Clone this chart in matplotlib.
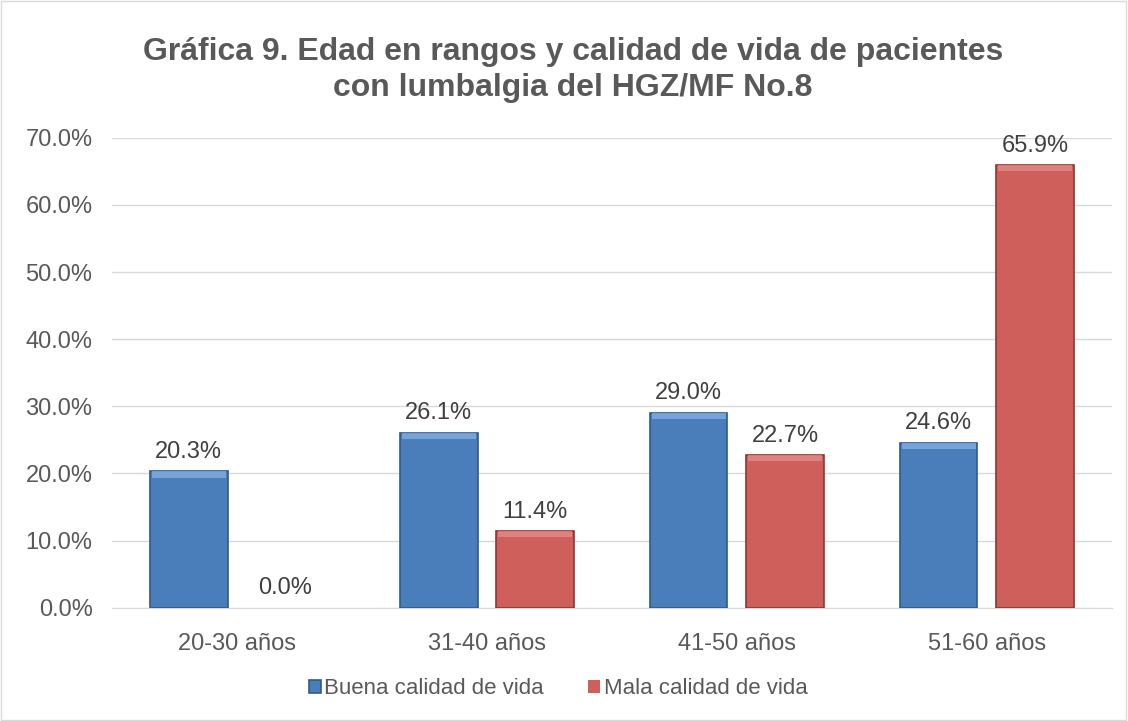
import matplotlib.pyplot as plt
import numpy as np

categories = ['20-30 años', '31-40 años', '41-50 años', '51-60 años']
buena = [20.3, 26.1, 29.0, 24.6]
mala = [0.0, 11.4, 22.7, 65.9]
series_names = ['Buena calidad de vida', 'Mala calidad de vida']

plt.rcParams['font.family'] = ['Liberation Sans', 'DejaVu Sans']

fig = plt.figure(figsize=(11.28, 7.21), dpi=100)
ax = fig.add_axes([0.0993, 0.157, 0.8865, 0.652])

x = np.arange(len(categories))
w = 0.31
off = 0.193

b1 = ax.bar(x - off, buena, w, color='#4A7EBB', edgecolor='#2E5A8C', linewidth=1.2,
            label=series_names[0], zorder=3)
b2 = ax.bar(x + off, mala, w, color='#CF5F5B', edgecolor='#8E3533', linewidth=1.2,
            label=series_names[1], zorder=3)

# light top bevel strip on each bar, hide empty bars
for bars, c in ((b1, '#8DB3E2'), (b2, '#E4918E')):
    for r in bars:
        h = r.get_height()
        if h > 0:
            ax.bar(r.get_x() + r.get_width() / 2, min(0.9, h), r.get_width() * 0.96,
                   bottom=h - min(0.9, h), color=c, linewidth=0, zorder=4, alpha=0.7)
        else:
            r.set_linewidth(0)

for bars, vals in ((b1, buena), (b2, mala)):
    for r, v in zip(bars, vals):
        ax.text(r.get_x() + r.get_width() / 2, v + 1.3, f'{v:.1f}%', ha='center',
                va='bottom', fontsize=17, color='#404040')

ax.set_ylim(0, 70)
ax.set_xlim(-0.5, 3.5)
ax.set_yticks(np.arange(0, 71, 10))
ax.set_yticklabels([f'{v:.1f}%' for v in np.arange(0, 71, 10)], fontsize=17, color='#595959')
ax.set_xticks(x)
ax.set_xticklabels(categories, fontsize=17, color='#595959')
ax.tick_params(axis='y', length=0, pad=14)
ax.tick_params(axis='x', length=0, pad=18)
ax.grid(axis='y', color='#D9D9D9', linewidth=1, zorder=0)
for s in ['top', 'right', 'left']:
    ax.spines[s].set_visible(False)
ax.spines['bottom'].set_color('#D9D9D9')

fig.text(0.508, 0.903, 'Gráfica 9. Edad en rangos y calidad de vida de pacientes\ncon lumbalgia del HGZ/MF No.8',
         ha='center', va='center', fontsize=23, fontweight='bold', color='#595959',
         linespacing=1.25)

ax.legend(loc='center', bbox_to_anchor=(0.446, -0.172), ncol=2, frameon=False,
          fontsize=16, handlelength=0.55, handleheight=0.55, handletextpad=0.15,
          columnspacing=2.0, labelcolor='#595959')

fig.patches.append(plt.Rectangle((0.001, 0.001), 0.997, 0.997, transform=fig.transFigure,
                                 fill=False, edgecolor='#D9D9D9', linewidth=1))

fig.savefig('out.png', dpi=100)
